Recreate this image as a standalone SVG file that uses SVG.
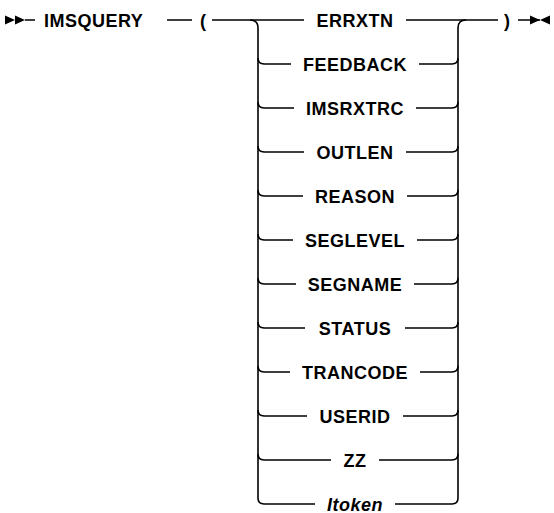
<svg xmlns="http://www.w3.org/2000/svg" width="554" height="513" viewBox="0 0 554 513">
<style>
.ln{fill:none;stroke:#000;stroke-width:1.6}
.t{font-family:"Liberation Sans",Arial,sans-serif;font-size:18px;font-weight:bold;letter-spacing:0.5px;fill:#000}
.c{text-anchor:middle}
.i{font-style:italic}
.ah{fill:#000}
</style>
<rect width="554" height="513" fill="#fff"/>
<g id="connectors">
<polygon class="ah" points="5,15.5 5,24.5 15,20"/>
<polygon class="ah" points="15,15.5 15,24.5 25,20"/>
<path class="ln" d="M25 20H35 M167 20H192 M212 20H304 M406 20H498 M518 20H540"/>
<polygon class="ah" points="530,15.5 530,24.5 540,20"/>
<polygon class="ah" points="550,15.5 550,24.5 540,20"/>
<path class="ln" d="M250 20Q258 20 258 28V498Q258 504 264 504"/>
<path class="ln" d="M466 20Q458 20 458 28V498Q458 504 452 504"/>
<path class="ln" d="M258 58Q258 64 264 64H291 M419 64H452Q458 64 458 58"/>
<path class="ln" d="M258 102Q258 108 264 108H294 M416 108H452Q458 108 458 102"/>
<path class="ln" d="M258 146Q258 152 264 152H304 M406 152H452Q458 152 458 146"/>
<path class="ln" d="M258 190Q258 196 264 196H303 M407 196H452Q458 196 458 190"/>
<path class="ln" d="M258 234Q258 240 264 240H293 M417 240H452Q458 240 458 234"/>
<path class="ln" d="M258 278Q258 284 264 284H296 M414 284H452Q458 284 458 278"/>
<path class="ln" d="M258 322Q258 328 264 328H305 M405 328H452Q458 328 458 322"/>
<path class="ln" d="M258 366Q258 372 264 372H290 M420 372H452Q458 372 458 366"/>
<path class="ln" d="M258 410Q258 416 264 416H307 M403 416H452Q458 416 458 410"/>
<path class="ln" d="M258 454Q258 460 264 460H331 M379 460H452Q458 460 458 454"/>
<path class="ln" d="M264 504H315 M395 504H452"/>
</g>
<g id="imsquery"><text class="t" x="44" y="26.5">IMSQUERY</text></g>
<g id="lparen"><text class="t" x="200" y="26.5">(</text></g>
<g id="rparen"><text class="t" x="504" y="26.5">)</text></g>
<g id="errxtn"><text class="t c" x="355" y="26.5">ERRXTN</text></g>
<g id="feedback"><text class="t c" x="355" y="70.5">FEEDBACK</text></g>
<g id="imsrxtrc"><text class="t c" x="355" y="114.5">IMSRXTRC</text></g>
<g id="outlen"><text class="t c" x="355" y="158.5">OUTLEN</text></g>
<g id="reason"><text class="t c" x="355" y="202.5">REASON</text></g>
<g id="seglevel"><text class="t c" x="355" y="246.5">SEGLEVEL</text></g>
<g id="segname"><text class="t c" x="355" y="290.5">SEGNAME</text></g>
<g id="status"><text class="t c" x="355" y="334.5">STATUS</text></g>
<g id="trancode"><text class="t c" x="355" y="378.5">TRANCODE</text></g>
<g id="userid"><text class="t c" x="355" y="422.5">USERID</text></g>
<g id="zz"><text class="t c" x="355" y="466.5">ZZ</text></g>
<g id="itoken"><text class="t c i" x="355" y="510.5">Itoken</text></g>
</svg>
